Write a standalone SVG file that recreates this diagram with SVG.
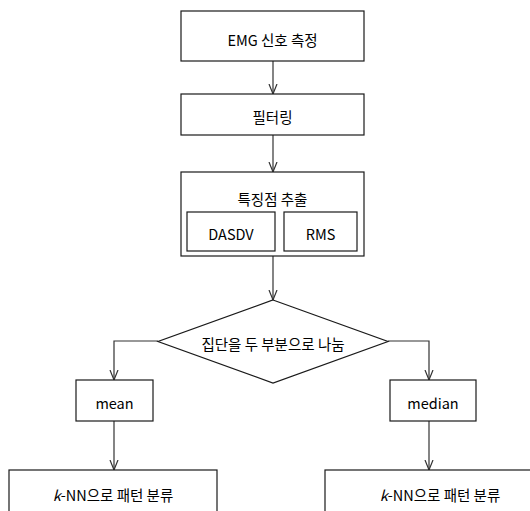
<svg xmlns="http://www.w3.org/2000/svg" width="530" height="511" viewBox="0 0 530 511">
<defs>
<style>
.box{fill:#fff;stroke:#1a1a1a;stroke-width:1.2}
.t{font-family:"Noto Sans CJK KR","Malgun Gothic","DejaVu Sans",sans-serif;font-size:14.5px;fill:#000;text-anchor:middle;dominant-baseline:central}
.c{fill:none;stroke:#333;stroke-width:1.2}
</style>
<marker id="ah" markerWidth="12" markerHeight="12" refX="10" refY="6" orient="auto" markerUnits="userSpaceOnUse">
<polyline points="0,2 10,6 0,10" fill="none" stroke="#333" stroke-width="1.2"/>
</marker>
</defs>
<rect width="530" height="511" fill="#fff"/>
<g id="connectors">
<line class="c" x1="273" y1="61" x2="273" y2="94" marker-end="url(#ah)"/>
<line class="c" x1="273" y1="135" x2="273" y2="172" marker-end="url(#ah)"/>
<line class="c" x1="273" y1="256" x2="273" y2="300" marker-end="url(#ah)"/>
<polyline class="c" points="158,341 114,341 114,380" marker-end="url(#ah)"/>
<polyline class="c" points="388,341 429,341 429,380" marker-end="url(#ah)"/>
<line class="c" x1="114" y1="421" x2="114" y2="470" marker-end="url(#ah)"/>
<line class="c" x1="429" y1="421" x2="429" y2="470" marker-end="url(#ah)"/>
</g>
<g id="n1"><rect class="box" x="181" y="11" width="183" height="50"/><text class="t" x="272.5" y="39">EMG 신호 측정</text></g>
<g id="n2"><rect class="box" x="181" y="94" width="183" height="41"/><text class="t" x="272.5" y="116">필터링</text></g>
<g id="n3"><rect class="box" x="181" y="172" width="183" height="84"/><text class="t" x="272.5" y="198">특징점 추출</text></g>
<g id="n3a"><rect class="box" x="187" y="212" width="88" height="39"/><text class="t" x="231" y="233">DASDV</text></g>
<g id="n3b"><rect class="box" x="284" y="212" width="73" height="39"/><text class="t" x="320.5" y="233">RMS</text></g>
<g id="n4"><polygon class="box" points="273,300 388,341.5 273,383 158,341.5"/><text class="t" x="273" y="343">집단을 두 부분으로 나눔</text></g>
<g id="n5"><rect class="box" x="76" y="380" width="77" height="41"/><text class="t" x="114.5" y="402">mean</text></g>
<g id="n6"><rect class="box" x="390" y="380" width="86" height="41"/><text class="t" x="433" y="402">median</text></g>
<g id="n7"><rect class="box" x="9" y="470" width="208" height="60"/><text class="t" x="113" y="494"><tspan font-style="italic">k</tspan>-NN으로 패턴 분류</text></g>
<g id="n8"><rect class="box" x="325" y="470" width="230" height="60"/><text class="t" x="440" y="494"><tspan font-style="italic">k</tspan>-NN으로 패턴 분류</text></g>
</svg>
